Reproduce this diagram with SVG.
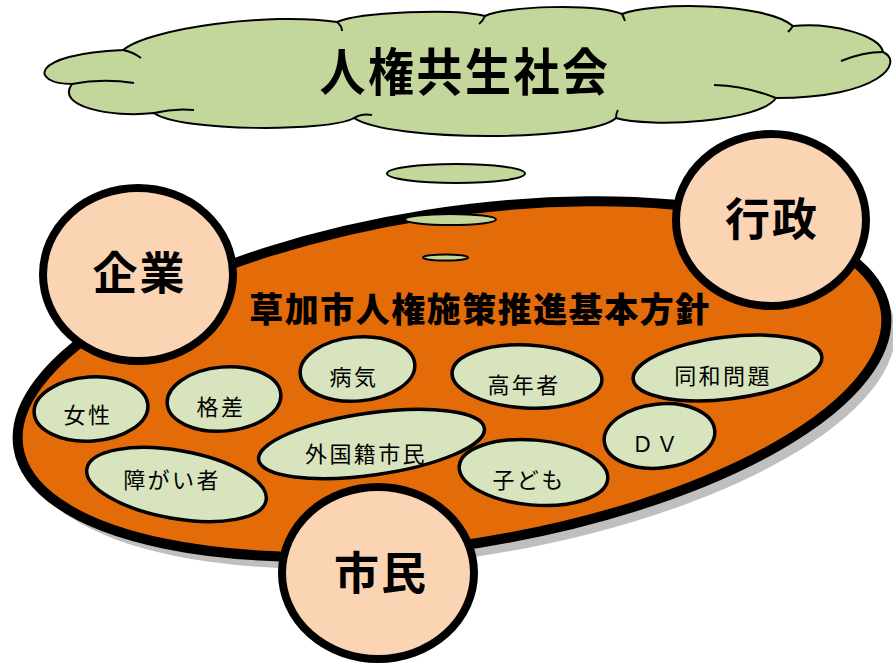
<svg xmlns="http://www.w3.org/2000/svg" width="893" height="668" viewBox="0 0 893 668">
<style>
text{font-family:"Noto Sans CJK JP","Noto Sans CJK SC",sans-serif;fill:#000;text-anchor:middle;dominant-baseline:central}
.cloud{fill:#C3D69B;stroke:#000;stroke-width:2}
.scallop{fill:none;stroke:#000;stroke-width:2}
.bubble{fill:#C3D69B;stroke:#000;stroke-width:2}
.topic{fill:#D7E4BD;stroke:#000;stroke-width:3.5}
.topic-t{font-size:22px;letter-spacing:2.4px;font-weight:400}
.actor{fill:#FBD4B4;stroke:#000;stroke-width:8}
.actor-t{font-size:45px;letter-spacing:2px;font-weight:700}
</style>

<g id="cloud">
<path class="cloud" d="M72,84 C30,84 28,54 123,50 C150,28 270,12 337,22 C360,12 455,8 485,16 C505,6 595,3 622,14 C650,2 765,2 793,26 C830,22 880,35 883,52 C905,62 880,98 776,98 C760,122 650,128 616,118 C590,142 390,142 354,118 C330,132 180,132 154,113 C110,118 55,106 72,84 Z"/>
<path class="scallop" d="M123,50 q10,2 18,8 M337,22 q5,4 5,9 M485,16 q-2,5 -6,8 M622,14 q2,4 3,7 M793,26 q-2,3 -5,6 M883,52 q-20,0 -42,9 M776,98 q-30,-12 -62,-13 M616,118 q0,-5 2,-8 M354,118 q8,-5 18,-3 M154,113 q20,-5 40,-3 M72,84 q30,-6 62,-1"/>
<text transform="translate(465 69) scale(1 1.1)" x="0" y="0" style="font-size:46px;letter-spacing:2.5px;font-weight:700">人権共生社会</text>
</g>

<g id="plan">
<ellipse cx="461" cy="391" rx="439" ry="166" transform="rotate(-9 461 391)" fill="#BFBFBF"/>
<ellipse cx="452" cy="379" rx="439" ry="166" transform="rotate(-9 452 379)" fill="#E36C09" stroke="#000" stroke-width="10"/>
</g>

<g id="thought-bubbles">
<ellipse class="bubble" cx="456" cy="173.5" rx="69" ry="9.5"/>
<ellipse class="bubble" cx="450.5" cy="219.5" rx="45.5" ry="5.5"/>
<ellipse class="bubble" cx="445.5" cy="257.5" rx="22.5" ry="3"/>
</g>

<g id="title">
<text x="480" y="307.5" style="font-size:34px;letter-spacing:1.5px;font-weight:900">草加市人権施策推進基本方針</text>
</g>

<g id="topic-josei">
<ellipse class="topic" cx="91" cy="409" rx="57" ry="32" transform="rotate(-4 91 409)"/>
<text class="topic-t" x="88" y="413">女性</text>
</g>
<g id="topic-kakusa">
<ellipse class="topic" cx="224" cy="399" rx="57" ry="32" transform="rotate(-5 224 399)"/>
<text class="topic-t" x="221" y="405">格差</text>
</g>
<g id="topic-byoki">
<ellipse class="topic" cx="357.5" cy="369" rx="57.5" ry="32" transform="rotate(-5 357.5 369)"/>
<text class="topic-t" x="354" y="375">病気</text>
</g>
<g id="topic-koreisha">
<ellipse class="topic" cx="527" cy="376.5" rx="75" ry="31.5" transform="rotate(3 527 376.5)"/>
<text class="topic-t" x="524" y="383">高年者</text>
</g>
<g id="topic-dowa">
<ellipse class="topic" cx="727.5" cy="368" rx="95" ry="31" transform="rotate(-7 727.5 368)"/>
<text class="topic-t" x="723" y="374">同和問題</text>
</g>
<g id="topic-gaikoku">
<ellipse class="topic" cx="371.5" cy="444" rx="114" ry="31" transform="rotate(-8 371.5 444)"/>
<text class="topic-t" x="366" y="452">外国籍市民</text>
</g>
<g id="topic-shogai">
<ellipse class="topic" cx="176.5" cy="484.5" rx="91" ry="34" transform="rotate(10 176.5 484.5)"/>
<text class="topic-t" x="172" y="477.5">障がい者</text>
</g>
<g id="topic-kodomo">
<ellipse class="topic" cx="533.5" cy="472.5" rx="74.5" ry="32.5" transform="rotate(5 533.5 472.5)"/>
<text class="topic-t" x="529" y="478">子ども</text>
</g>
<g id="topic-dv">
<ellipse class="topic" cx="659.5" cy="436" rx="55.5" ry="32" transform="rotate(-6 659.5 436)"/>
<text class="topic-t" x="656" y="442">ＤＶ</text>
</g>

<g id="actor-kigyo">
<ellipse class="actor" cx="138" cy="274.5" rx="95" ry="86.5"/>
<text class="actor-t" x="139.5" y="270">企業</text>
</g>
<g id="actor-gyosei">
<ellipse class="actor" cx="771" cy="220" rx="95" ry="86"/>
<text class="actor-t" x="772" y="216.5">行政</text>
</g>
<g id="actor-shimin">
<ellipse class="actor" cx="378" cy="573" rx="96" ry="86"/>
<text class="actor-t" x="381" y="570">市民</text>
</g>
</svg>
